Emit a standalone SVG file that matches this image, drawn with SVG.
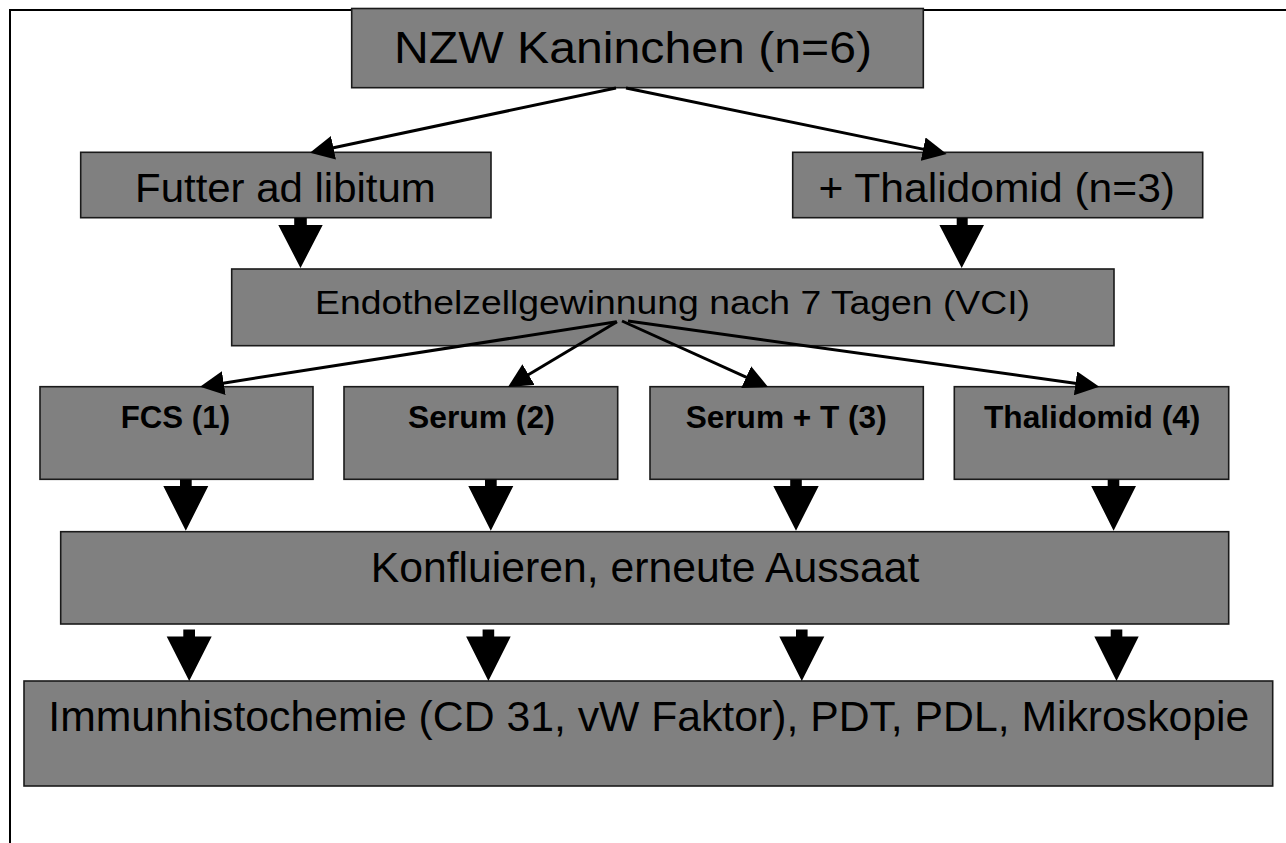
<svg xmlns="http://www.w3.org/2000/svg" width="1286" height="843" viewBox="0 0 1286 843">
<style>
.box{fill:#808080;stroke:#1a1a1a;stroke-width:1.6}
.t{font-family:"Liberation Sans",Arial,sans-serif;fill:#000;text-anchor:middle}
.b{font-weight:bold}
.ln{stroke:#000;stroke-width:3;fill:none}
.blk{fill:#000}
.frame{stroke:#000;stroke-width:2;fill:none}
</style>
<defs>
<marker id="ah" markerUnits="userSpaceOnUse" viewBox="0 0 24 24" markerWidth="24" markerHeight="24" refX="12" refY="12" orient="auto">
<path d="M0,0 L24,12 L0,24 z" fill="#000"/>
</marker>
</defs>
<path class="frame" d="M10,843 L10,10 L1286,10"/>
<g id="n-nzw"><rect class="box" x="351.7" y="8.5" width="571.6" height="79.2"/><text class="t" x="633" y="63.3" font-size="44" textLength="478" lengthAdjust="spacingAndGlyphs">NZW Kaninchen (n=6)</text></g>
<g id="n-futter"><rect class="box" x="80.7" y="152.3" width="410.3" height="65.4"/><text class="t" x="285.4" y="201.7" font-size="40" textLength="300.7" lengthAdjust="spacingAndGlyphs">Futter ad libitum</text></g>
<g id="n-thal"><rect class="box" x="792.7" y="152.3" width="410" height="65.4"/><text class="t" x="996.7" y="201.5" font-size="40" textLength="356.6" lengthAdjust="spacingAndGlyphs">+ Thalidomid (n=3)</text></g>
<g id="n-endo"><rect class="box" x="231.7" y="269" width="882.3" height="76.7"/><text class="t" x="672.5" y="314" font-size="34" textLength="715" lengthAdjust="spacingAndGlyphs">Endothelzellgewinnung nach 7 Tagen (VCI)</text></g>
<g id="n-fcs"><rect class="box" x="40" y="386.7" width="273" height="92.6"/><text class="t b" x="175.4" y="428.3" font-size="30.5" textLength="109.3" lengthAdjust="spacingAndGlyphs">FCS (1)</text></g>
<g id="n-serum"><rect class="box" x="344" y="386.7" width="273.7" height="92.6"/><text class="t b" x="481.4" y="428.3" font-size="30.5" textLength="146.7" lengthAdjust="spacingAndGlyphs">Serum (2)</text></g>
<g id="n-serumt"><rect class="box" x="650" y="386.7" width="273.3" height="92.6"/><text class="t b" x="786.2" y="428.3" font-size="30.5" textLength="201" lengthAdjust="spacingAndGlyphs">Serum + T (3)</text></g>
<g id="n-thal4"><rect class="box" x="954.3" y="386.7" width="274.4" height="92.6"/><text class="t b" x="1092.2" y="428.3" font-size="30.5" textLength="216.4" lengthAdjust="spacingAndGlyphs">Thalidomid (4)</text></g>
<g id="n-konf"><rect class="box" x="60.7" y="531.7" width="1168" height="92.3"/><text class="t" x="645" y="581.7" font-size="43" textLength="548.6" lengthAdjust="spacingAndGlyphs">Konfluieren, erneute Aussaat</text></g>
<g id="n-immun"><rect class="box" x="24" y="681" width="1248.7" height="105"/><text class="t" x="648.8" y="730.7" font-size="43" textLength="1201" lengthAdjust="spacingAndGlyphs">Immunhistochemie (CD 31, vW Faktor), PDT, PDL, Mikroskopie</text></g>
<g id="connectors">
<line class="ln" x1="616" y1="88" x2="321.7" y2="150.2" marker-end="url(#ah)"/>
<line class="ln" x1="626" y1="88" x2="934.9" y2="151.6" marker-end="url(#ah)"/>
<line class="ln" x1="616.7" y1="321.7" x2="211.9" y2="384.9" marker-end="url(#ah)"/>
<line class="ln" x1="617" y1="321.7" x2="518.3" y2="380.8" marker-end="url(#ah)"/>
<line class="ln" x1="622" y1="321" x2="757.1" y2="382.1" marker-end="url(#ah)"/>
<line class="ln" x1="628" y1="321" x2="1087.4" y2="385" marker-end="url(#ah)"/>
<polygon class="blk" points="294.2,218 306.8,218 306.8,225 322.7,225 300.5,268 278.3,225 294.2,225"/>
<polygon class="blk" points="956.7,218 967.7,218 967.7,225 984,225 961.7,268 939.4,225 956.7,225"/>
<polygon class="blk" points="180,479.5 191.7,479.5 191.7,486 208.3,486 185.8,530.7 163.3,486 180,486"/>
<polygon class="blk" points="485,479.5 496.7,479.5 496.7,486 513.3,486 490.8,530.7 468.3,486 485,486"/>
<polygon class="blk" points="790.2,479.5 801.8,479.5 801.8,486 818.7,486 796,530.7 773.3,486 790.2,486"/>
<polygon class="blk" points="1107.7,479.5 1119.3,479.5 1119.3,486 1136,486 1113.6,530.7 1091.2,486 1107.7,486"/>
<polygon class="blk" points="183.3,629.5 195,629.5 195,636.5 211.7,636.5 189.2,681 166.7,636.5 183.3,636.5"/>
<polygon class="blk" points="482.6,629.5 494.2,629.5 494.2,636.5 510.7,636.5 488.4,681 466.1,636.5 482.6,636.5"/>
<polygon class="blk" points="796,629.5 807.6,629.5 807.6,636.5 824.3,636.5 801.8,681 779.3,636.5 796,636.5"/>
<polygon class="blk" points="1110.7,629.5 1122.3,629.5 1122.3,636.5 1138.7,636.5 1116.5,681 1094.3,636.5 1110.7,636.5"/>
</g>
</svg>
